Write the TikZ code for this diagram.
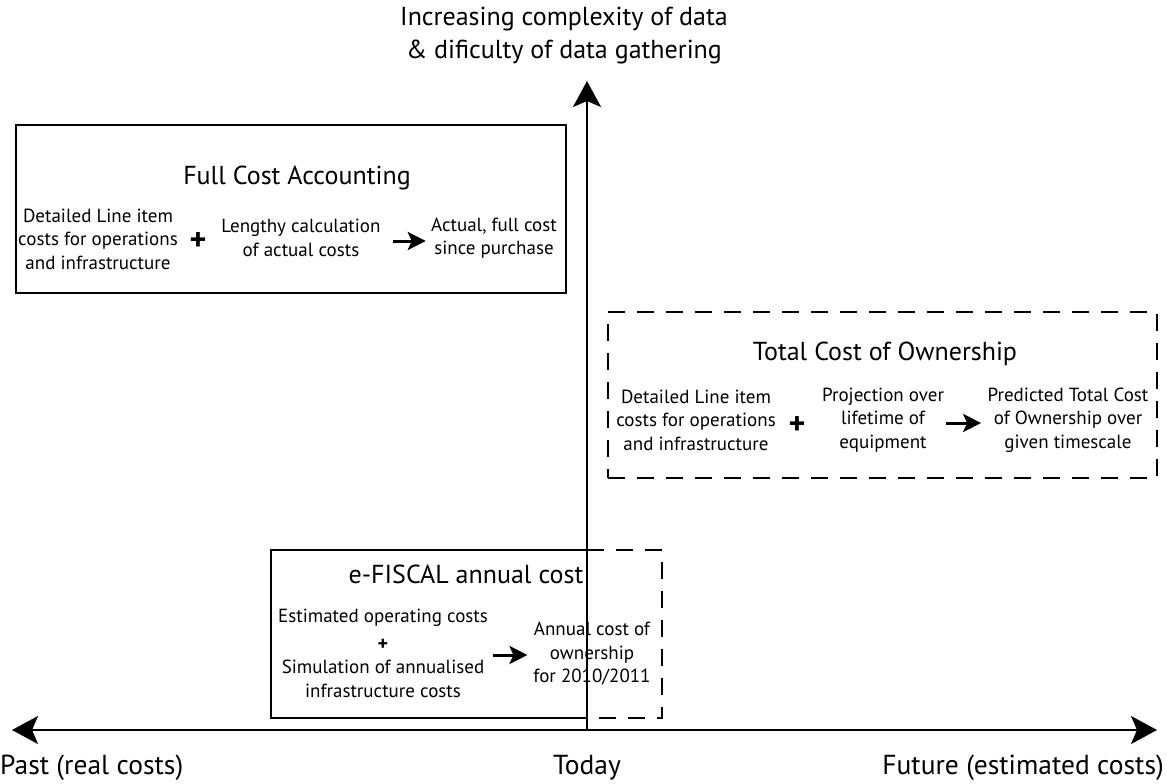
\documentclass[tikz,border=0pt]{standalone}
\usepackage{fontspec}
\setmainfont{PT Sans}
\usetikzlibrary{arrows.meta}
\begin{document}
\begin{tikzpicture}[x=1pt,y=-1pt,
  big/.style={font=\fontsize{26}{33}\selectfont, inner sep=0pt, align=center},
  axislbl/.style={font=\fontsize{27.5}{33}\selectfont, inner sep=0pt},
  body/.style={font=\fontsize{19}{23.5}\selectfont, inner sep=0pt, align=center},
  plussign/.style={font=\fontsize{32}{32}\selectfont\bfseries, inner sep=0pt},
  smallplus/.style={font=\fontsize{20}{20}\selectfont\bfseries, inner sep=0pt},
  frame/.style={draw=none, inner sep=0pt, minimum width=#1},
  solidbox/.style={draw, line width=2pt},
  dashbox/.style={draw, line width=2pt, dash pattern=on 17pt off 12pt},
  axisline/.style={line width=2pt, -{Stealth[length=26pt,width=28pt,inset=6pt]}},
  biaxis/.style={line width=2pt, {Stealth[length=26pt,width=28pt,inset=6pt]}-{Stealth[length=26pt,width=28pt,inset=6pt]}},
  innerarrow/.style={line width=3pt, -{Stealth[length=18pt,width=18pt,inset=4pt]}}
]
\useasboundingbox (0,0) rectangle (1167,784);

% axes
\coordinate (hl) at (12,730);
\coordinate (hr) at (1157,730);
\coordinate (today) at (587,730);
\coordinate (vt) at (587,81);
\draw[biaxis] (hl) -- (hr);
\draw[axisline] (today) -- (vt);

\node[big] (ylabel) at (564,36) {Increasing complexity of data\\\& dificulty of data gathering};
\node[axislbl, anchor=west] (past) at (0,768) {Past (real costs)};
\node[axislbl] (todaylbl) at (587,768) {Today};
\node[axislbl, anchor=east] (future) at (1164,768) {Future (estimated costs)};

% Full Cost Accounting
\node[solidbox, minimum width=550pt, minimum height=168pt, inner sep=0pt] (fca) at (291,209) {};
\node[big] (fcat) at (297,178) {Full Cost Accounting};
\node[body] (fca1) at (98,239) {Detailed Line item\\costs for operations\\and infrastructure};
\node[plussign] (fcap) at (198,241) {+};
\node[body] (fca2) at (301,238) {Lengthy calculation\\of actual costs};
\node[body] (fca3) at (494,238) {Actual, full cost\\since purchase};
\draw[innerarrow] (fca2.east) ++(12,3) -- ++(33,0);

% Total Cost of Ownership
\node[dashbox, minimum width=549pt, minimum height=166pt, inner sep=0pt] (tco) at (882.5,395) {};
\node[big] (tcot) at (885,354) {Total Cost of Ownership};
\node[body] (tco1) at (696,420) {Detailed Line item\\costs for operations\\and infrastructure};
\node[plussign] (tcop) at (797,425) {+};
\node[body] (tco2) at (883,420) {Projection over\\lifetime of\\equipment};
\node[body] (tco3) at (1068,420) {Predicted Total Cost\\of Ownership over\\given timescale};
\draw[innerarrow] (tco2.east) ++(2,3) -- ++(35,0);

% e-FISCAL
\node[frame=391pt, minimum height=168pt] (ef) at (466.5,634) {};
\draw[solidbox] (ef.north -| today) -| (ef.south west) -- (ef.south -| today);
\draw[dashbox] (ef.north -| today) -| (ef.south east) -- (ef.south -| today);
\node[big] (eft) at (466,574) {e-FISCAL annual cost};
\node[body] (ef1a) at (383,618) {Estimated operating costs};
\node[smallplus] (efp) at (383,645) {+};
\node[body] (ef1b) at (383,679) {Simulation of annualised\\infrastructure costs};
\node[body] (ef2) at (592,654) {Annual cost of\\ownership\\for 2010/2011};
\draw[innerarrow] (ef1b.east) ++(9,-24) -- ++(34,0);
\end{tikzpicture}
\end{document}
